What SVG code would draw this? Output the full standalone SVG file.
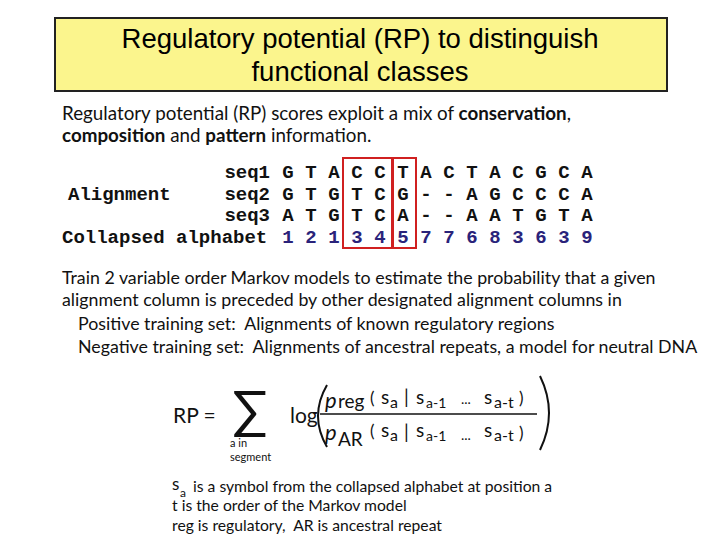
<svg xmlns="http://www.w3.org/2000/svg" width="720" height="540" viewBox="0 0 720 540">
<style>
.t{font-family:Lato,"Open Sans",sans-serif;fill:#111}
.m{font-family:"Liberation Mono",monospace;font-weight:bold;font-size:19px;fill:#111}
.n{fill:#2a237a}
.rb{fill:none;stroke:#d02020;stroke-width:2}
.f{font-family:Lato,"Open Sans",sans-serif;fill:#111}
</style>
<rect width="720" height="540" fill="#fff"/>
<g id="title">
<rect x="55" y="18" width="612" height="73" fill="#fbf58d" stroke="#222" stroke-width="2"/>
<text x="360" y="48" text-anchor="middle" font-family="Liberation Sans,sans-serif" font-size="27.5">Regulatory potential (RP) to distinguish</text>
<text x="360" y="81" text-anchor="middle" font-family="Liberation Sans,sans-serif" font-size="27.5">functional classes</text>
</g>
<g id="intro" font-size="18.8">
<text x="62" y="120" class="t">Regulatory potential (RP) scores exploit a mix of <tspan font-weight="bold">conservation</tspan>,</text>
<text x="62" y="142" class="t"><tspan font-weight="bold">composition</tspan> and <tspan font-weight="bold">pattern</tspan> information.</text>
</g>
<g id="alignment">
<text class="m" x="68" y="200">Alignment</text>
<text class="m" x="270" y="178" text-anchor="end">seq1</text>
<text class="m" x="270" y="200" text-anchor="end">seq2</text>
<text class="m" x="270" y="221" text-anchor="end">seq3</text>
<text class="m" x="62" y="243">Collapsed alphabet</text>
<text class="m" text-anchor="middle" y="178" x="288 311 334 357 380 403 426 449 472 495 518 541 564 587">GTACCTACTACGCA</text>
<text class="m" text-anchor="middle" y="200" x="288 311 334 357 380 403 426 449 472 495 518 541 564 587">GTGTCG--AGCCCA</text>
<text class="m" text-anchor="middle" y="221" x="288 311 334 357 380 403 426 449 472 495 518 541 564 587">ATGTCA--AATGTA</text>
<text class="m n" text-anchor="middle" y="243" x="288 311 334 357 380 403 426 449 472 495 518 541 564 587">12134577683639</text>
<rect class="rb" x="343" y="158" width="49" height="90"/>
<rect class="rb" x="393" y="158" width="23" height="90"/>
</g>
<g id="train" font-size="17.8">
<text x="62" y="284" class="t">Train 2 variable order Markov models to estimate the probability that a given</text>
<text x="62" y="306" class="t">alignment column is preceded by other designated alignment columns in</text>
<text x="78" y="330" class="t" xml:space="preserve">Positive training set:  Alignments of known regulatory regions</text>
<text x="78" y="353" class="t" xml:space="preserve">Negative training set:  Alignments of ancestral repeats, a model for neutral DNA</text>
</g>
<g id="formula">
<text x="173" y="423" class="f" font-size="21">RP =</text>
<text x="250" y="428" class="f" font-size="52" text-anchor="middle" font-family="Liberation Sans,sans-serif">∑</text>
<text x="230" y="447" class="f" font-size="11">a in</text>
<text x="230" y="461" class="f" font-size="11">segment</text>
<text x="290" y="423" class="f" font-size="21">log</text>
<path d="M327 385 Q309 416 327 447" fill="none" stroke="#111" stroke-width="2"/>
<path d="M540 376 Q558 413 540 450" fill="none" stroke="#111" stroke-width="2"/>
<g class="f">
<text x="325" y="408" font-size="22" font-style="italic">p</text>
<text x="338" y="408" font-size="19">reg</text>
<text x="370" y="404" font-size="17">(</text>
<text x="381" y="404" font-size="19">s</text>
<text x="390" y="408" font-size="16">a</text>
<text x="404" y="404" font-size="19">|</text>
<text x="416" y="404" font-size="19">s</text>
<text x="426" y="408" font-size="14">a-1</text>
<text x="461" y="404" font-size="14">...</text>
<text x="484" y="404" font-size="19">s</text>
<text x="494" y="408" font-size="16">a-t</text>
<text x="519" y="404" font-size="17">)</text>
</g>
<line x1="320" y1="414" x2="537" y2="414" stroke="#111" stroke-width="1.3"/>
<g class="f">
<text x="325" y="440" font-size="22" font-style="italic">p</text>
<text x="338" y="446" font-size="19">AR</text>
<text x="370" y="437" font-size="17">(</text>
<text x="381" y="437" font-size="19">s</text>
<text x="390" y="441" font-size="16">a</text>
<text x="404" y="439" font-size="19">|</text>
<text x="416" y="437" font-size="19">s</text>
<text x="426" y="441" font-size="14">a-1</text>
<text x="461" y="440" font-size="14">...</text>
<text x="484" y="437" font-size="19">s</text>
<text x="494" y="441" font-size="16">a-t</text>
<text x="519" y="439" font-size="17">)</text>
</g>
</g>
<g id="legend" font-size="15.7">
<text x="172" y="490" class="f" font-size="17">s</text>
<text x="180" y="497" class="f" font-size="12">a</text>
<text x="193" y="492" class="f">is a symbol from the collapsed alphabet at position a</text>
<text x="172" y="511" class="f">t is the order of the Markov model</text>
<text x="172" y="531" class="f" xml:space="preserve">reg is regulatory,  AR is ancestral repeat</text>
</g>
</svg>
